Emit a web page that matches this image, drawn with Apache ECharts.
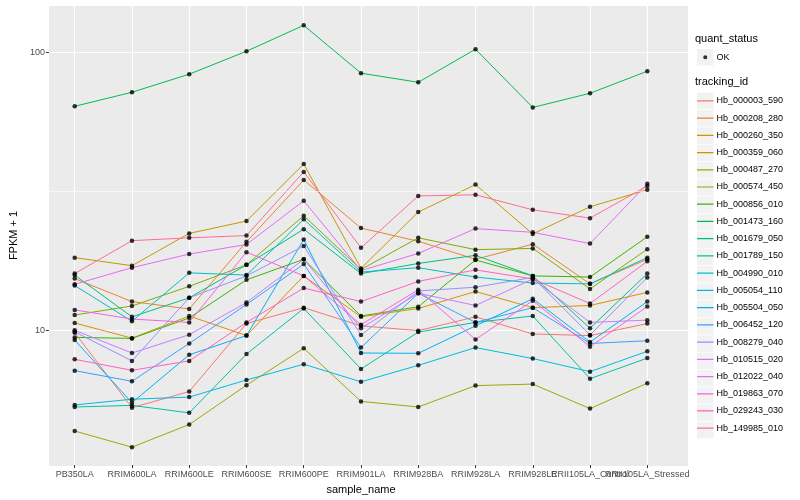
<!DOCTYPE html>
<html><head><meta charset="utf-8">
<script src="https://cdn.jsdelivr.net/npm/echarts@6/dist/echarts.min.js"></script>
<style>html,body{margin:0;padding:0;background:#fff}#c{width:800px;height:500px}</style>
</head><body><div id="c"></div><script>
const categories = ['PB350LA','RRIM600LA','RRIM600LE','RRIM600SE','RRIM600PE','RRIM901LA','RRIM928BA','RRIM928LA','RRIM928LE','RRII105LA_Control','RRII105LA_Stressed'];
const yTickLabels = [10, 100];
const trackingIds = ['Hb_000003_590','Hb_000208_280','Hb_000260_350','Hb_000359_060','Hb_000487_270','Hb_000574_450','Hb_000856_010','Hb_001473_160','Hb_001679_050','Hb_001789_150','Hb_004990_010','Hb_005054_110','Hb_005504_050','Hb_006452_120','Hb_008279_040','Hb_010515_020','Hb_012022_040','Hb_019863_070','Hb_029243_030','Hb_149985_010'];
const colors = ['#F8766D','#EA8331','#D89000','#C09B00','#A3A500','#7CAE00','#39B600','#00BB4E','#00BF7D','#00C1A3','#00BFC4','#00BAE0','#00B0F6','#35A2FF','#9590FF','#C77CFF','#E76BF3','#FA62DB','#FF62BC','#FF6C91'];

const hb000003_590 = [9.73, 5.22, 5.97, 10.5, 11.98, 10.3, 9.9, 11.1, 9.63, 9.5, 10.5];
const hb000208_280 = [15.25, 12.6, 11.85, 20.7, 34.6, 23.2, 20.8, 17.9, 20.3, 14.6, 17.9];
const hb000260_350 = [10.55, 9.3, 11.18, 9.5, 15.6, 11.1, 11.9, 13.7, 11.98, 12.2, 13.6];
const hb000359_060 = [18.15, 16.98, 22.2, 24.6, 39.5, 16.6, 26.5, 33.3, 22.1, 27.7, 31.9];
const hb000487_270 = [4.3, 3.76, 4.54, 6.29, 8.55, 5.5, 5.25, 6.27, 6.35, 5.18, 6.4];
const hb000574_450 = [11.27, 12.15, 14.3, 17.1, 25.7, 16.45, 21.4, 19.4, 19.6, 14.0, 19.46];
const hb000856_010 = [9.36, 9.28, 11.0, 15.1, 17.9, 11.18, 12.07, 17.8, 15.6, 15.45, 21.6];
const hb001473_160 = [63.8, 71.7, 83.3, 100.8, 125, 84, 77.9, 102.5, 63.2, 71.1, 85.4];
const hb001679_050 = [15.7, 11.1, 13.0, 17.1, 23.0, 15.9, 17.3, 18.5, 15.6, 10.1, 15.9];
const hb001789_150 = [5.25, 5.32, 5.0, 8.15, 11.9, 7.2, 9.78, 10.6, 11.18, 6.64, 7.88];
const hb004990_010 = [14.4, 10.7, 16.0, 15.7, 24.96, 16.1, 16.7, 15.45, 14.7, 14.6, 18.15];
const hb005054_110 = [5.34, 5.6, 5.7, 6.57, 7.49, 6.47, 7.42, 8.6, 7.85, 7.04, 8.34];
const hb005504_050 = [9.15, 5.44, 8.1, 9.5, 21.1, 8.22, 8.2, 10.3, 12.9, 9.0, 12.6];
const hb006452_120 = [7.1, 6.5, 8.9, 12.3, 17.2, 8.6, 13.5, 10.6, 11.98, 8.9, 9.1];
const hb008279_040 = [9.8, 7.7, 13.0, 15.6, 20.0, 9.55, 13.76, 14.2, 15.4, 9.55, 15.4];
const hb010515_020 = [9.93, 8.22, 9.57, 12.5, 17.9, 10.1, 13.5, 12.2, 15.2, 10.6, 10.8];
const hb012022_040 = [14.55, 16.7, 18.7, 20.25, 29.1, 16.3, 18.8, 23.1, 22.4, 20.4, 33.5];
const hb019863_070 = [11.76, 10.9, 10.6, 19.0, 15.6, 10.4, 13.9, 9.2, 12.7, 8.66, 12.1];
const hb029243_030 = [7.8, 7.12, 7.7, 10.6, 14.1, 12.6, 14.9, 16.4, 15.2, 12.4, 17.6];
const hb149985_010 = [15.9, 20.9, 21.4, 21.8, 37.0, 19.7, 30.3, 30.6, 27.0, 25.2, 32.9];

const seriesValues = [hb000003_590, hb000208_280, hb000260_350, hb000359_060, hb000487_270, hb000574_450, hb000856_010, hb001473_160, hb001679_050, hb001789_150, hb004990_010, hb005054_110, hb005504_050, hb006452_120, hb008279_040, hb010515_020, hb012022_040, hb019863_070, hb029243_030, hb149985_010];

const FONT = '"Liberation Sans", Arial, Helvetica, sans-serif';
const Y_MIN = 3.24, Y_MAX = 148;
const lineIcon = 'path://M0,0L0.01,0Z M0,16L0.01,16Z M0,7.4L16,7.4L16,8.6L0,8.6Z';

const series = [];
// panel helper series for minor grid line
series.push({
  type: 'line', xAxisIndex: 0, yAxisIndex: 0, data: [], silent: true, z: 1,
  markLine: { silent: true, symbol: 'none', label: { show: false },
    lineStyle: { color: '#ffffff', width: 0.6, type: 'solid' },
    data: [{ yAxis: Math.sqrt(1000) }] }
});
trackingIds.forEach((id, k) => {
  series.push({
    name: id, type: 'line', xAxisIndex: 1, yAxisIndex: 1,
    data: seriesValues[k], showSymbol: false, symbol: 'none',
    itemStyle: { color: colors[k] },
    lineStyle: { color: colors[k], width: 1 },
    emphasis: { disabled: true }, z: 2
  });
});
const pts = [];
seriesValues.forEach(vals => vals.forEach((v, i) => pts.push([i, v])));
series.push({
  name: 'OK', type: 'scatter', xAxisIndex: 1, yAxisIndex: 1, data: pts,
  symbol: 'circle', symbolSize: 4.5, itemStyle: { color: '#000000' }, z: 5,
  emphasis: { disabled: true }
});

const keyBoxes = [{ type: 'rect', shape: { x: 697, y: 49, width: 16.5, height: 16.5 }, style: { fill: '#F2F2F2' } }];
trackingIds.forEach((id, k) => {
  keyBoxes.push({ type: 'rect', shape: { x: 697, y: 92.6 + k * 17.33, width: 16.5, height: 16.6 }, style: { fill: '#F2F2F2' } });
});

const option = {
  animation: false,
  textStyle: { fontFamily: FONT },
  title: [
    { text: 'quant_status', left: 695, top: 33, textStyle: { fontSize: 11, fontWeight: 'normal', color: '#000', fontFamily: FONT }, padding: 0 },
    { text: 'tracking_id', left: 695, top: 76, textStyle: { fontSize: 11, fontWeight: 'normal', color: '#000', fontFamily: FONT }, padding: 0 }
  ],
  graphic: { elements: keyBoxes },
  legend: [
    { data: ['OK'], orient: 'vertical', left: 697, top: 49, padding: 0, itemWidth: 16.5, itemHeight: 16.5,
      icon: 'path://M0,0L0.01,0Z M16,16L15.99,16Z M6,8A2,2 0 1,1 10,8A2,2 0 1,1 6,8Z',
      selectedMode: false, textStyle: { fontSize: 9, color: '#000', fontFamily: FONT, padding: [0, 0, 0, -2] } },
    { data: trackingIds, orient: 'vertical', left: 697, top: 92.6, padding: 0, itemWidth: 16.5, itemHeight: 16.6, itemGap: 0.73,
      icon: lineIcon, selectedMode: false, textStyle: { fontSize: 9, color: '#000', fontFamily: FONT, padding: [0, 0, 0, -2] } }
  ],
  grid: [
    { left: 40, right: 112, top: 5, bottom: 34, show: true, backgroundColor: '#EBEBEB', borderWidth: 0 },
    { left: 74.7, right: 152.7, top: 5, bottom: 34 }
  ],
  xAxis: [
    { gridIndex: 0, type: 'value', min: 0, max: 1, show: false },
    { gridIndex: 1, type: 'category', data: categories, boundaryGap: false,
      axisLine: { show: false },
      axisTick: { show: true, length: 3, lineStyle: { color: '#333333', width: 1 } },
      axisLabel: { interval: 0, hideOverlap: false, color: '#4D4D4D', fontSize: 9, margin: 5, fontFamily: FONT },
      splitLine: { show: true, lineStyle: { color: '#ffffff', width: 1.1 } },
      name: 'sample_name', nameLocation: 'middle', nameGap: 16,
      nameTextStyle: { fontSize: 11, color: '#000', fontFamily: FONT } }
  ],
  yAxis: [
    { gridIndex: 0, type: 'log', logBase: 10, min: Y_MIN, max: Y_MAX,
      axisLine: { show: false },
      axisTick: { show: true, length: 3, lineStyle: { color: '#333333', width: 1 } },
      axisLabel: { color: '#4D4D4D', fontSize: 9, margin: 4, fontFamily: FONT, showMinLabel: false, showMaxLabel: false,
        formatter: v => { const r = Math.round(v); return yTickLabels.includes(r) && Math.abs(v - r) < 1e-6 ? String(r) : ''; } },
      splitLine: { show: true, lineStyle: { color: '#ffffff', width: 1.1 } },
      name: 'FPKM + 1', nameLocation: 'middle', nameGap: 22, nameRotate: 90,
      nameTextStyle: { fontSize: 11, color: '#000', fontFamily: FONT } },
    { gridIndex: 1, type: 'log', logBase: 10, min: Y_MIN, max: Y_MAX, show: false, splitLine: { show: false } }
  ],
  series: series
};
const chart = echarts.init(document.getElementById('c'));
chart.setOption(option);
</script></body></html>
